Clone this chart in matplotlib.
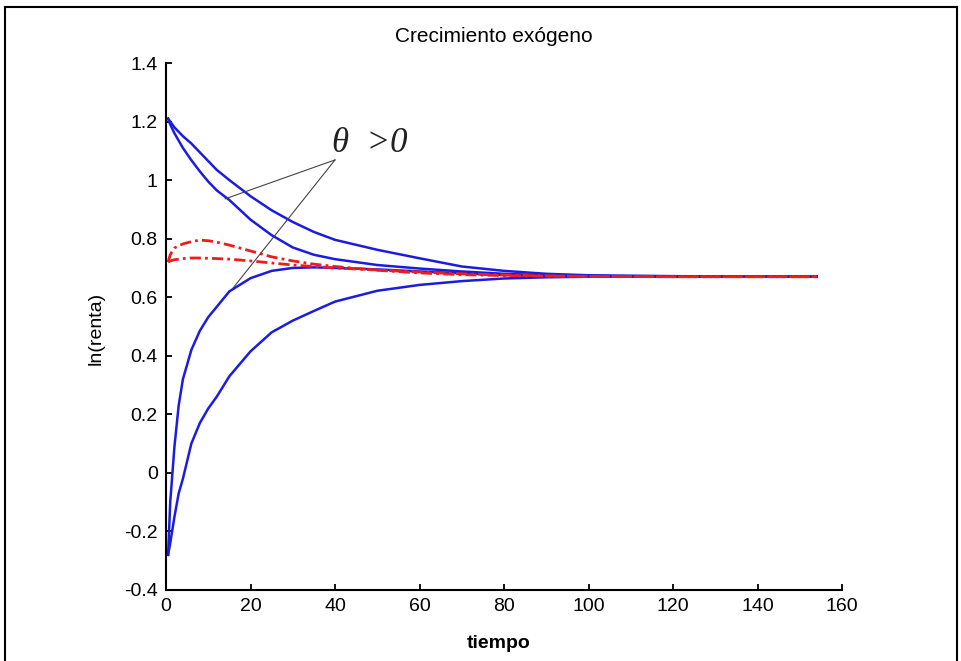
import numpy as np
import matplotlib
matplotlib.use("Agg")
import matplotlib.pyplot as plt
from matplotlib.lines import Line2D

# tiempo
tiempo = [0.5, 1, 2, 3, 4, 6, 8, 10, 12, 15, 20, 25, 30, 35, 40, 50, 60, 70, 80, 90, 100, 120, 140, 154]

# trayectorias de ln(renta)
azul_alta_lenta = [1.21, 1.20, 1.18, 1.165, 1.15, 1.125, 1.095, 1.065, 1.035, 1.0, 0.945, 0.897, 0.857,
                   0.823, 0.796, 0.762, 0.733, 0.705, 0.69, 0.68, 0.675, 0.672, 0.67, 0.67]
azul_alta_rapida = [1.21, 1.19, 1.16, 1.135, 1.11, 1.068, 1.03, 0.995, 0.965, 0.932, 0.865, 0.812, 0.77,
                    0.745, 0.73, 0.71, 0.698, 0.688, 0.68, 0.675, 0.672, 0.671, 0.67, 0.67]
azul_baja_rapida = [-0.28, -0.10, 0.09, 0.23, 0.32, 0.42, 0.485, 0.532, 0.567, 0.62, 0.665, 0.69, 0.70,
                    0.702, 0.70, 0.695, 0.688, 0.682, 0.676, 0.672, 0.671, 0.67, 0.67, 0.67]
azul_baja_lenta = [-0.28, -0.24, -0.15, -0.07, -0.02, 0.10, 0.17, 0.22, 0.26, 0.33, 0.415, 0.48, 0.52,
                   0.553, 0.585, 0.622, 0.642, 0.655, 0.664, 0.668, 0.67, 0.67, 0.67, 0.67]
rojo_pico = [0.72, 0.745, 0.768, 0.776, 0.782, 0.79, 0.795, 0.793, 0.788, 0.778, 0.758, 0.738, 0.724,
             0.713, 0.705, 0.692, 0.683, 0.677, 0.674, 0.672, 0.671, 0.67, 0.67, 0.67]
rojo_plano = [0.72, 0.724, 0.728, 0.730, 0.732, 0.734, 0.734, 0.733, 0.732, 0.73, 0.724, 0.717, 0.71,
              0.705, 0.70, 0.693, 0.686, 0.68, 0.676, 0.673, 0.671, 0.67, 0.67, 0.67]

xticks = [0, 20, 40, 60, 80, 100, 120, 140, 160]
yticks = [-0.4, -0.2, 0, 0.2, 0.4, 0.6, 0.8, 1, 1.2, 1.4]
ylabels = ['-0.4', '-0.2', '0', '0.2', '0.4', '0.6', '0.8', '1', '1.2', '1.4']

# flechas de la etiqueta theta > 0
vertice = (40, 1.069)
puntas = [(14, 0.936), (15.9, 0.632)]

plt.rcParams['font.family'] = ['Liberation Sans', 'DejaVu Sans']

fig = plt.figure(figsize=(9.62, 6.61), dpi=100)
ax = fig.add_axes([166/962, 71/661, 676/962, 527/661])

azul = '#1c1ce0'
rojo = '#ee1c1c'
for serie in [azul_alta_lenta, azul_alta_rapida, azul_baja_rapida, azul_baja_lenta]:
    ax.plot(tiempo, serie, color=azul, lw=1.8)
for serie in [rojo_pico, rojo_plano]:
    ax.plot(tiempo, serie, color=rojo, lw=2.0, dashes=(4, 1.5, 1, 1.5))

for p in puntas:
    ax.plot([vertice[0], p[0]], [vertice[1], p[1]], color='#444444', lw=0.8)
ax.text(39.3, 1.096, 'θ  >0', family='Liberation Serif', style='italic', fontsize=25,
        ha='left', va='baseline', color='#222222')

ax.set_xlim(0, 160)
ax.set_ylim(-0.4, 1.4)
ax.set_xticks(xticks)
ax.set_yticks(yticks)
ax.set_xticklabels([str(v) for v in xticks])
ax.set_yticklabels(ylabels)
ax.tick_params(direction='in', length=4, width=1.3, labelsize=14, pad=6)
for s in ['top', 'right']:
    ax.spines[s].set_visible(False)
for s in ['left', 'bottom']:
    ax.spines[s].set_linewidth(1.5)

fig.text(494/962, 1 - 42/661, 'Crecimiento exógeno', ha='center', va='baseline', fontsize=15)
fig.text(499/962, 1 - 643/661, 'tiempo', ha='center', va='center', fontsize=14, fontweight='bold')
fig.text(96/962, 1 - 328/661, 'ln(renta)', rotation=90, ha='center', va='center', fontsize=14)

# marco exterior
for xs, ys in [([5/962, 5/962], [-0.01, 1 - 7/661]),
               ([5/962, 957/962], [1 - 7/661, 1 - 7/661]),
               ([957/962, 957/962], [1 - 7/661, -0.01])]:
    fig.add_artist(Line2D(xs, ys, color='black', lw=1.5))

fig.savefig('out.png', dpi=100)
